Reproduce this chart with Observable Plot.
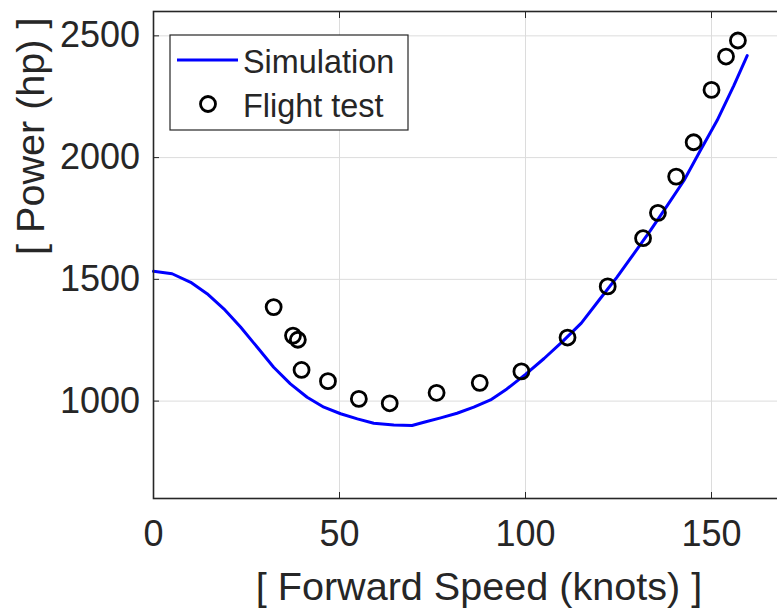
<!DOCTYPE html>
<html><head><meta charset="utf-8">
<script src="https://cdn.jsdelivr.net/npm/d3@7"></script>
<script src="https://cdn.jsdelivr.net/npm/@observablehq/plot@0.6"></script>
<style>
html,body{margin:0;padding:0;overflow:hidden;background:#fff;width:777px;height:610px}
#chart{width:777px;height:610px;overflow:hidden;position:relative}
#chart svg{max-width:none !important;}
</style></head><body><div id="chart"></div>
<script>
const simSpeed = [0, 5, 10, 14.4, 18.9, 23.4, 27.9, 32.3, 36.8, 41.3, 45.8, 50.3, 54.8, 59.2, 64.6, 69.5, 72.7, 77.2, 81.6, 86.1, 90.6, 95, 100, 105, 110, 115, 119.7, 124.6, 129.1, 133.6, 138.1, 142.6, 147, 151.5, 156, 159.6];
const simPower = [1533, 1523, 1488, 1441, 1379, 1304, 1221, 1139, 1071, 1016, 975, 948, 927, 909, 902, 900, 913, 931, 950, 975, 1005, 1050, 1110, 1175, 1245, 1320, 1413, 1509, 1605, 1701, 1803, 1906, 2029, 2152, 2296, 2419];
const flightSpeed = [32.3, 37.5, 38.8, 39.8, 46.9, 55.2, 63.5, 76.1, 87.7, 98.9, 111.3, 122.1, 131.6, 135.6, 140.5, 145.2, 150.0, 153.9, 157.1];
const flightPower = [1386, 1269, 1252, 1128, 1082, 1009, 991, 1034, 1075, 1122, 1261, 1471, 1669, 1773, 1922, 2063, 2278, 2415, 2481];
const xTicks = [0, 50, 100, 150];
const xGrid = [50, 100, 150];
const yTicks = [1000, 1500, 2000, 2500];
const seriesNames = ["Simulation", "Flight test"];
const xLabel = "[ Forward Speed (knots) ]";
const yLabel = "[ Power (hp) ]";

const sim = simSpeed.map((s, i) => ({speed: s, power: simPower[i]}));
const flight = flightSpeed.map((s, i) => ({speed: s, power: flightPower[i]}));

const ink = "#262626";
const font = "'Liberation Sans', Arial, Helvetica, sans-serif";
const fmt = d => String(d);

function legend(index, scales, values, dims) {
  const g = d3.create("svg:g").attr("font-family", font).attr("font-size", 32.4)
    .attr("fill", ink).attr("text-anchor", "start");
  g.append("rect").attr("x", 170).attr("y", 35).attr("width", 238).attr("height", 95)
    .attr("fill", "white").attr("stroke", ink).attr("stroke-width", 1.2);
  g.append("line").attr("x1", 177).attr("x2", 238).attr("y1", 60).attr("y2", 60)
    .attr("stroke", "#0000ff").attr("stroke-width", 3);
  g.append("circle").attr("cx", 208).attr("cy", 104).attr("r", 7.5)
    .attr("fill", "none").attr("stroke", "#000").attr("stroke-width", 2.8);
  g.append("text").attr("x", 243).attr("y", 73).text(seriesNames[0]);
  g.append("text").attr("x", 243).attr("y", 117).text(seriesNames[1]);
  return g.node();
}

const chart = Plot.plot({
  width: 810, height: 610,
  marginLeft: 153, marginRight: 6, marginTop: 11, marginBottom: 112,
  x: {domain: [0, 175]},
  y: {domain: [600, 2600]},
  style: {fontFamily: font, color: ink, background: "white", overflow: "visible", maxWidth: "none"},
  marks: [
    Plot.gridX(xGrid, {stroke: "#dcdcdc", strokeOpacity: 1, strokeWidth: 1}),
    Plot.gridY(yTicks, {stroke: "#dcdcdc", strokeOpacity: 1, strokeWidth: 1}),
    Plot.line(sim, {x: "speed", y: "power", stroke: "#0000ff", strokeWidth: 3}),
    Plot.dot(flight, {x: "speed", y: "power", r: 7.5, stroke: "#000", strokeWidth: 2.8, fill: "none"}),
    Plot.frame({stroke: ink, strokeWidth: 1.6}),
    Plot.axisX(xTicks, {anchor: "bottom", tickSize: 0, tickPadding: 22, fontSize: 36, label: null, tickFormat: fmt}),
    Plot.axisX(xTicks, {anchor: "bottom", tickSize: 6, dy: -6, fill: "none", label: null, stroke: ink}),
    Plot.axisX(xTicks, {anchor: "top", tickSize: 6, dy: 6, fill: "none", label: null, stroke: ink}),
    Plot.axisY(yTicks, {anchor: "left", tickSize: 0, tickPadding: 13.5, fontSize: 36, label: null, tickFormat: fmt}),
    Plot.axisY(yTicks, {anchor: "left", tickSize: 6, dx: 6, fill: "none", label: null, stroke: ink}),
    Plot.text([xLabel], {frameAnchor: "bottom", dy: 101, lineAnchor: "bottom", fontSize: 39.6, text: d => d}),
    Plot.text([yLabel], {frameAnchor: "left", dx: -109.5, rotate: -90, lineAnchor: "bottom", fontSize: 39.6, text: d => d}),
    legend
  ]
});
chart.style.maxWidth = "none";
document.getElementById("chart").appendChild(chart);
</script></body></html>
